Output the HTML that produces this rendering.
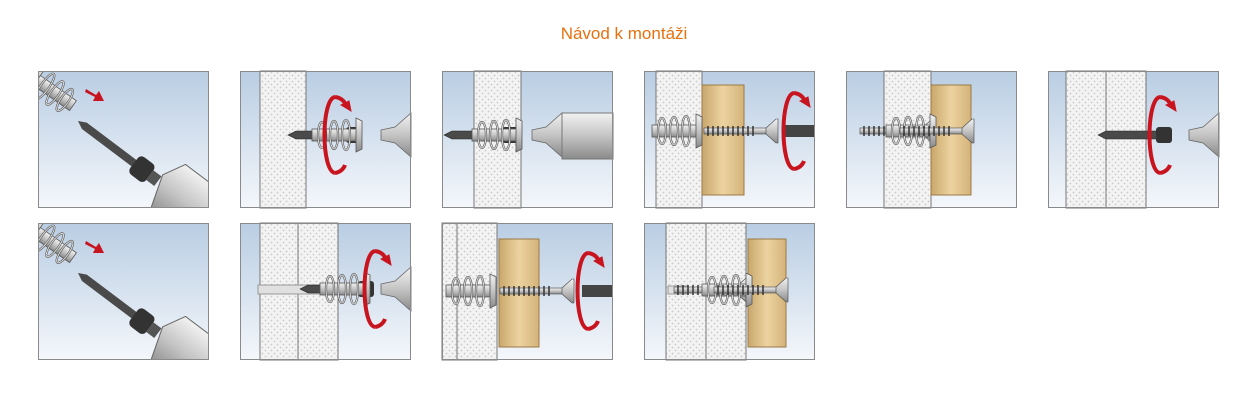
<!DOCTYPE html>
<html><head><meta charset="utf-8"><style>
html,body{margin:0;padding:0;background:#fff;width:1248px;height:417px;overflow:hidden}
.t{position:absolute;left:0;width:1248px;top:24px;text-align:center;font:17px "Liberation Sans",sans-serif;color:#e8700f}
svg{position:absolute;left:0;top:0}
</style></head><body>
<div class="t">Návod k montáži</div>
<svg width="1248" height="417" viewBox="0 0 1248 417">
<defs>
<clipPath id="pc"><rect width="171" height="137"/></clipPath>
<linearGradient id="bg" x1="0" y1="0" x2="0" y2="1"><stop offset="0" stop-color="#b9cde3"/><stop offset="1" stop-color="#f4f7fb"/></linearGradient>
<pattern id="dots" width="6" height="6" patternUnits="userSpaceOnUse"><rect width="6" height="6" fill="#f3f3f3"/><circle cx="1.5" cy="1.5" r="0.9" fill="#c9c9c9"/><circle cx="4.5" cy="4.5" r="0.9" fill="#c9c9c9"/></pattern>
<linearGradient id="wood" x1="0" y1="0" x2="1" y2="0"><stop offset="0" stop-color="#c9a76c"/><stop offset=".5" stop-color="#ecd3a0"/><stop offset="1" stop-color="#d4b37a"/></linearGradient>
<linearGradient id="met" x1="0" y1="0" x2="0" y2="1"><stop offset="0" stop-color="#f2f2f2"/><stop offset=".5" stop-color="#c4c4c4"/><stop offset="1" stop-color="#8a8a8a"/></linearGradient>
<g id="dowel">
<rect x="0" y="-6" width="46" height="12" fill="url(#met)" stroke="#555" stroke-width=".8"/>
<g fill="none" stroke="#555" stroke-width="2.2"><ellipse cx="10" cy="0" rx="4" ry="13"/><ellipse cx="22" cy="0" rx="4" ry="14"/><ellipse cx="34" cy="0" rx="4" ry="15"/></g>
<g fill="none" stroke="#ddd" stroke-width="1"><ellipse cx="10" cy="0" rx="4" ry="13"/><ellipse cx="22" cy="0" rx="4" ry="14"/><ellipse cx="34" cy="0" rx="4" ry="15"/></g>
<path d="M44 -17 L50 -14 L50 14 L44 17 Z" fill="url(#met)" stroke="#555" stroke-width=".8"/>
</g>
<g id="bit"><path d="M0 0 L8 -4 L60 -4 L60 4 L8 4 Z" fill="#4a4a4a" stroke="#222" stroke-width=".6"/><rect x="58" y="-8" width="16" height="16" rx="3" fill="#333"/></g>
<g id="drill"><path d="M0 -5 L14 -8 L30 -22 L30 22 L14 8 L0 5Z" fill="url(#met)" stroke="#666" stroke-width=".8"/></g>
<g id="rot" fill="none" stroke="#c8141e" stroke-width="4"><path d="M0 -38 C-14 -36 -14 36 0 38"/><path d="M0 -38 C8 -37 10 -32 12 -28" /><path d="M6 -30 L16 -24 L14 -34Z" fill="#c8141e" stroke-width="1"/><path d="M0 38 C6 37 9 33 10 30"/></g>
<g id="screw"><rect x="0" y="-3" width="70" height="6" fill="url(#met)" stroke="#444" stroke-width=".6"/><path d="M4 -5 L4 5 M9 -5 L9 5 M14 -5 L14 5 M19 -5 L19 5 M24 -5 L24 5 M29 -5 L29 5 M34 -5 L34 5 M39 -5 L39 5 M44 -5 L44 5 M49 -5 L49 5" stroke="#333" stroke-width="1.5"/><path d="M62 -3 L72 -12 L74 -12 L74 12 L72 12 L62 3Z" fill="url(#met)" stroke="#444" stroke-width=".6"/></g>
<g id="diag">
<g clip-path="url(#pc)">
<rect width="171" height="137" fill="url(#bg)"/>
<g transform="translate(-6,6) rotate(35)"><use href="#dowel" transform="scale(-1,1) translate(-50,0)"/></g>
<path d="M48 18 L58 24 L61 20 L66 30 L55 30 L57 26 L47 21Z" fill="#c8141e"/>
<g transform="translate(40,50) rotate(37)"><path d="M0 0 L8 -4 L72 -4 L72 4 L8 4 Z" fill="#4a4a4a"/><rect x="70" y="-11" width="20" height="22" rx="5" fill="#333"/><rect x="90" y="-6" width="10" height="12" fill="#555"/><path d="M100 -8 L112 -30 L160 -30 L160 30 L112 30 Z" fill="url(#met)" stroke="#666"/></g>
</g>
<rect x=".5" y=".5" width="170" height="136" fill="none" stroke="#8a8a8a"/>
</g>
<g id="frame"><rect x=".5" y=".5" width="170" height="136" fill="none" stroke="#8a8a8a"/></g>
</defs>

<!-- Row 1 -->
<use href="#diag" x="38" y="71"/>

<g transform="translate(240,71)"><rect width="171" height="137" fill="url(#bg)"/>
<rect x="20" y="0" width="46" height="137" fill="url(#dots)" stroke="#777"/>
<use href="#bit" x="48" y="64"/><use href="#dowel" x="72" y="64"/><use href="#drill" x="141" y="64"/>
<use href="#rot" x="95" y="64"/><use href="#frame"/></g>

<g transform="translate(442,71)"><rect width="171" height="137" fill="url(#bg)"/>
<rect x="32" y="0" width="47" height="137" fill="url(#dots)" stroke="#777"/>
<use href="#bit" x="2" y="64"/><use href="#dowel" x="30" y="64"/><use href="#drill" x="90" y="64"/>
<rect x="120" y="42" width="51" height="46" fill="url(#met)" stroke="#777"/><use href="#frame"/></g>

<g transform="translate(644,71)"><rect width="171" height="137" fill="url(#bg)"/>
<rect x="12" y="0" width="46" height="137" fill="url(#dots)" stroke="#777"/>
<rect x="58" y="14" width="42" height="110" fill="url(#wood)" stroke="#9b7a45"/>
<use href="#dowel" x="8" y="60"/><use href="#screw" x="60" y="60"/>
<rect x="140" y="54" width="31" height="12" fill="#444"/><use href="#rot" x="150" y="60"/><use href="#frame"/></g>

<g transform="translate(846,71)"><rect width="171" height="137" fill="url(#bg)"/>
<rect x="38" y="0" width="47" height="137" fill="url(#dots)" stroke="#777"/>
<rect x="85" y="14" width="40" height="110" fill="url(#wood)" stroke="#9b7a45"/>
<use href="#screw" x="14" y="60"/><use href="#dowel" x="40" y="60"/><use href="#screw" x="54" y="60"/><use href="#frame"/></g>

<g transform="translate(1048,71)"><rect width="171" height="137" fill="url(#bg)"/>
<rect x="18" y="0" width="40" height="137" fill="url(#dots)" stroke="#777"/>
<rect x="58" y="0" width="40" height="137" fill="url(#dots)" stroke="#777"/>
<use href="#bit" x="50" y="64"/><use href="#drill" x="141" y="64"/><use href="#rot" x="112" y="64"/><use href="#frame"/></g>

<!-- Row 2 -->
<use href="#diag" x="38" y="223"/>

<g transform="translate(240,223)"><rect width="171" height="137" fill="url(#bg)"/>
<rect x="20" y="0" width="38" height="137" fill="url(#dots)" stroke="#777"/>
<rect x="58" y="0" width="40" height="137" fill="url(#dots)" stroke="#777"/>
<rect x="18" y="62" width="90" height="9" fill="#e0e0e0" stroke="#999"/>
<use href="#bit" x="60" y="66"/><use href="#dowel" x="80" y="66"/><use href="#drill" x="141" y="66"/><use href="#rot" x="135" y="66"/><use href="#frame"/></g>

<g transform="translate(442,223)"><rect width="171" height="137" fill="url(#bg)"/>
<rect x="0" y="0" width="15" height="137" fill="url(#dots)" stroke="#777"/>
<rect x="15" y="0" width="40" height="137" fill="url(#dots)" stroke="#777"/>
<rect x="57" y="16" width="40" height="108" fill="url(#wood)" stroke="#9b7a45"/>
<use href="#dowel" x="4" y="68"/><use href="#screw" x="58" y="68"/>
<rect x="140" y="62" width="31" height="12" fill="#444"/><use href="#rot" x="146" y="68"/><use href="#frame"/></g>

<g transform="translate(644,223)"><rect width="171" height="137" fill="url(#bg)"/>
<rect x="22" y="0" width="40" height="137" fill="url(#dots)" stroke="#777"/>
<rect x="62" y="0" width="40" height="137" fill="url(#dots)" stroke="#777"/>
<rect x="104" y="16" width="38" height="108" fill="url(#wood)" stroke="#9b7a45"/>
<rect x="24" y="63" width="20" height="8" fill="#e0e0e0" stroke="#999"/>
<use href="#screw" x="30" y="67"/><use href="#dowel" x="58" y="67"/><use href="#screw" x="70" y="67"/><use href="#frame"/></g>
</svg>
</body></html>
